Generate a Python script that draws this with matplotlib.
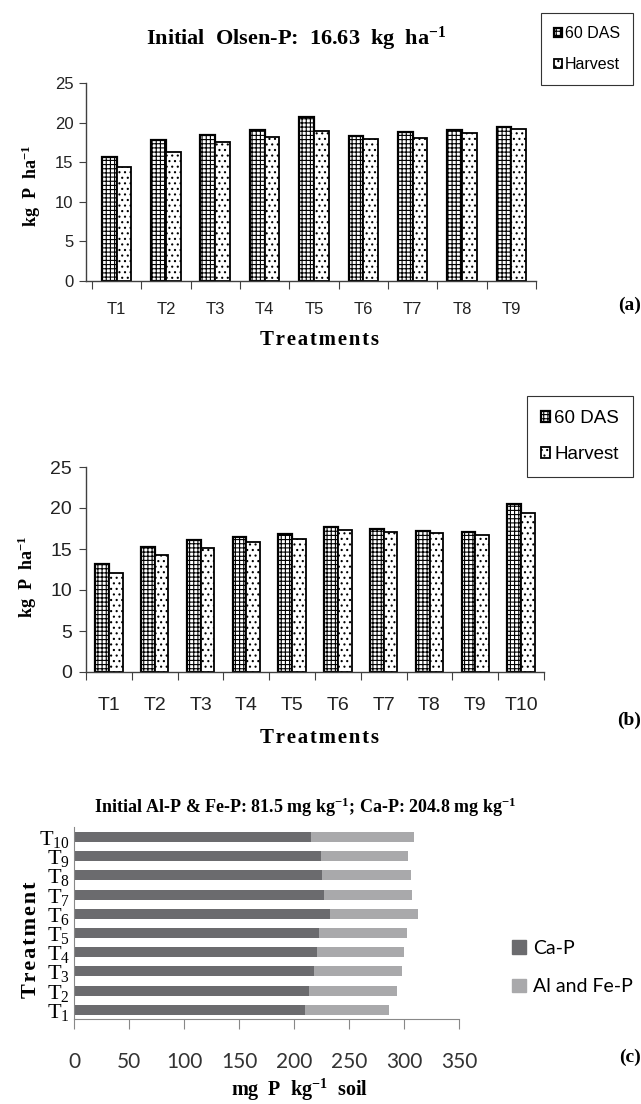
import matplotlib
matplotlib.use("Agg")
import matplotlib.pyplot as plt
from matplotlib.patches import Patch
import numpy as np

# panel (a) - Olsen-P, 9 treatments
treat_a = ['T1', 'T2', 'T3', 'T4', 'T5', 'T6', 'T7', 'T8', 'T9']
das_a = [15.6, 17.75, 18.4, 19.1, 20.7, 18.3, 18.75, 19.1, 19.5]
harv_a = [14.35, 16.25, 17.5, 18.15, 19.0, 17.9, 18.05, 18.7, 19.25]

# panel (b) - 10 treatments
treat_b = ['T1', 'T2', 'T3', 'T4', 'T5', 'T6', 'T7', 'T8', 'T9', 'T10']
das_b = [13.2, 15.3, 16.05, 16.45, 16.8, 17.7, 17.45, 17.15, 17.05, 20.5]
harv_b = [12.05, 14.3, 15.1, 15.9, 16.2, 17.3, 17.05, 16.9, 16.65, 19.4]

# panel (c) - P fractions
treat_c = [r'$\mathrm{T}_{%d}$' % i for i in range(1, 11)]
ca_p = [210, 213.7, 218, 221, 223, 232.7, 227.5, 225.6, 224.5, 215]
al_fe_p = [76.7, 80.0, 80.0, 79.0, 80.0, 79.7, 79.5, 80.4, 79.5, 94.0]

SERIF = 'Liberation Serif'
SANS = 'Liberation Sans'
HS = '\u200a'  # hair space for letter spacing

plt.rcParams['mathtext.fontset'] = 'custom'
plt.rcParams['mathtext.rm'] = SERIF
plt.rcParams['mathtext.it'] = SERIF + ':italic'
plt.rcParams['mathtext.bf'] = SERIF + ':bold'
plt.rcParams['hatch.linewidth'] = 0.8

W, H = 641, 1104
fig = plt.figure(figsize=(W / 100, H / 100), dpi=100)


def box(l, t, r, b):
    # pixel box -> figure fraction rect
    return [l / W, 1 - b / H, (r - l) / W, (b - t) / H]


def px(x, y):
    return x / W, 1 - y / H


def spaced(s):
    return HS.join(s)


def grouped(ax, labels, das, harv, xlo, tick_fs, ypad, xpad):
    x = np.arange(len(labels))
    w = 0.3
    b1 = ax.bar(x - w / 2, das, w, facecolor='white', edgecolor='black',
                hatch='++++', linewidth=1.6, label='60 DAS')
    b2 = ax.bar(x + w / 2, harv, w, facecolor='white', edgecolor='black',
                hatch='...', linewidth=1.3, label='Harvest')
    ax.set_xlim(xlo, len(labels) - 0.5)
    ax.set_ylim(0, 25)
    ax.set_yticks([0, 5, 10, 15, 20, 25])
    ax.set_xticks(np.arange(-0.5, len(labels)), labels=[])
    ax.set_xticks(x, labels=labels, minor=True)
    ax.tick_params(axis='x', which='major', length=6, color='#404040', direction='out')
    ax.tick_params(axis='x', which='minor', length=0, pad=xpad, labelsize=tick_fs)
    ax.tick_params(axis='y', length=5, color='#404040', pad=ypad, labelsize=tick_fs)
    for lab in ax.get_xticklabels(minor=True) + ax.get_yticklabels():
        lab.set_fontfamily(SANS)
        lab.set_color('#222222')
    for s in ['top', 'right']:
        ax.spines[s].set_visible(False)
    for s in ['left', 'bottom']:
        ax.spines[s].set_color('#404040')
        ax.spines[s].set_linewidth(1.0)
    return b1, b2


# ---- panel (a)
ax1 = fig.add_axes(box(86, 83, 536, 281))
b1, b2 = grouped(ax1, treat_a, das_a, harv_a, -0.62, 12, 4, 15)
fig.text(*px(296, 39), r'Initial  Olsen-P:  16.63  kg  ha$^{\mathbf{-1}}$',
         ha='center', va='center', fontfamily=SERIF, fontweight='bold', fontsize=16)
fig.text(*px(31, 186), r'kg  P  ha$^{\mathbf{-1}}$', rotation=90,
         ha='center', va='center', fontfamily=SERIF, fontweight='bold', fontsize=13)
fig.text(*px(320, 340), spaced('Treatments'), ha='center', va='center',
         fontfamily=SERIF, fontweight='bold', fontsize=15)
fig.text(*px(641, 305), '(a)', ha='right', va='center',
         fontfamily=SERIF, fontweight='bold', fontsize=14)
leg = fig.legend(handles=[b1, b2], loc='upper right', bbox_to_anchor=px(633, 13),
                 borderaxespad=0, fancybox=False, framealpha=1, edgecolor='#333333',
                 handlelength=0.5, handleheight=0.5, handletextpad=0.2,
                 labelspacing=1.0, borderpad=0.8, prop={'family': SANS, 'size': 11.5})
leg.get_frame().set_linewidth(0.8)

# ---- panel (b)
ax2 = fig.add_axes(box(86, 467, 544, 672))
c1, c2 = grouped(ax2, treat_b, das_b, harv_b, -0.5, 14, 5, 18)
fig.text(*px(27, 577), r'kg  P  ha$^{\mathbf{-1}}$', rotation=90,
         ha='center', va='center', fontfamily=SERIF, fontweight='bold', fontsize=13)
fig.text(*px(320, 738), spaced('Treatments'), ha='center', va='center',
         fontfamily=SERIF, fontweight='bold', fontsize=15)
fig.text(*px(641, 720), '(b)', ha='right', va='center',
         fontfamily=SERIF, fontweight='bold', fontsize=14)
leg = fig.legend(handles=[c1, c2], loc='upper right', bbox_to_anchor=px(633, 396),
                 borderaxespad=0, fancybox=False, framealpha=1, edgecolor='#333333',
                 handlelength=0.5, handleheight=0.5, handletextpad=0.2,
                 labelspacing=1.0, borderpad=0.75, prop={'family': SANS, 'size': 13.5})
leg.get_frame().set_linewidth(0.8)

# ---- panel (c)
ax3 = fig.add_axes(box(74, 827, 459, 1019))
y = np.arange(len(treat_c))
ax3.barh(y, ca_p, 0.52, color='#6b6b6e', label='Ca-P')
ax3.barh(y, al_fe_p, 0.52, left=ca_p, color='#a9a9ab', label='Al and Fe-P')
ax3.set_xlim(0, 350)
ax3.set_ylim(-0.48, 9.52)
ax3.set_xticks(np.arange(0, 351, 50))
ax3.set_yticks(y, labels=treat_c)
ax3.tick_params(axis='x', length=7, color='#888888', pad=17, labelsize=15, labelcolor='#333333')
ax3.tick_params(axis='y', length=0, pad=3, labelsize=16)
for lab in ax3.get_xticklabels():
    lab.set_fontfamily('Lato')
for s in ['top', 'right']:
    ax3.spines[s].set_visible(False)
for s in ['left', 'bottom']:
    ax3.spines[s].set_color('#888888')
fig.text(*px(305, 807), r'Initial Al-P & Fe-P: 81.5 mg kg$^{\mathbf{-1}}$; Ca-P: 204.8 mg kg$^{\mathbf{-1}}$',
         ha='center', va='center', fontfamily=SERIF, fontweight='bold', fontsize=13)
fig.text(*px(31, 940), spaced('Treatment'), rotation=90, ha='center', va='center',
         fontfamily=SERIF, fontweight='bold', fontsize=16)
fig.text(*px(300, 1096), r'mg  P  kg$^{\mathbf{-1}}$  soil', ha='center', va='baseline',
         fontfamily=SERIF, fontweight='bold', fontsize=14.5)
fig.text(*px(641, 1057), '(c)', ha='right', va='center',
         fontfamily=SERIF, fontweight='bold', fontsize=14)
fig.legend(handles=[Patch(color='#6b6b6e', label='Ca-P'),
                    Patch(color='#a9a9ab', label='Al and Fe-P')],
           loc='upper left', bbox_to_anchor=px(512, 940), borderaxespad=0,
           frameon=False, handlelength=0.7, handleheight=0.7, handletextpad=0.4,
           labelspacing=1.1, borderpad=0, prop={'family': 'Lato', 'size': 14})

fig.savefig('out.png', dpi=100)
